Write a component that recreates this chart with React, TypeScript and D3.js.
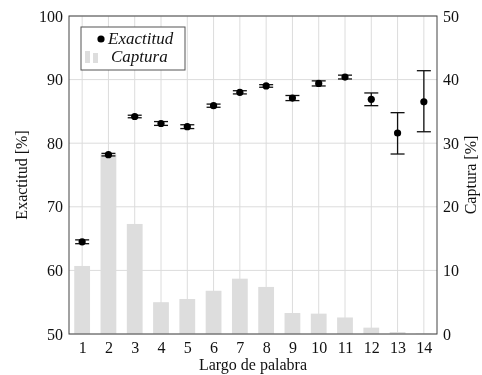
import { useEffect, useRef } from "react";
import * as d3 from "d3";

const largos = [1, 2, 3, 4, 5, 6, 7, 8, 9, 10, 11, 12, 13, 14];
const exactitud = [64.5, 78.2, 84.2, 83.1, 82.6, 85.9, 88.0, 89.0, 87.1, 89.4, 90.4, 86.9, 81.6, 86.5];
const errLow = [0.3, 0.2, 0.2, 0.3, 0.3, 0.25, 0.25, 0.2, 0.4, 0.4, 0.3, 1.0, 3.3, 4.7];
const errHigh = [0.3, 0.2, 0.2, 0.3, 0.3, 0.25, 0.25, 0.2, 0.4, 0.4, 0.3, 1.0, 3.2, 4.9];
const captura = [10.7, 28.3, 17.3, 5.0, 5.5, 6.8, 8.7, 7.4, 3.3, 3.2, 2.6, 1.0, 0.3, 0.05];
const leftTicks = [50, 60, 70, 80, 90, 100];
const rightTicks = [0, 10, 20, 30, 40, 50];

const FONT = "'Liberation Serif', 'DejaVu Serif', serif";

export default function App() {
  const svgRef = useRef<SVGSVGElement>(null);

  useEffect(() => {
    const svg = d3.select(svgRef.current);
    svg.selectAll("*").remove();

    // svg sits at page (0,0) and covers the whole window
    const left = 69, top = 16, right = 437, bottom = 334;
    const x = d3.scaleLinear().domain([0.5, 14.5]).range([left, right]);
    const yL = d3.scaleLinear().domain([50, 100]).range([bottom, top]);
    const yR = d3.scaleLinear().domain([0, 50]).range([bottom, top]);

    // grid
    svg.append("g")
      .selectAll("line")
      .data(largos)
      .join("line")
      .attr("x1", (d) => x(d)).attr("x2", (d) => x(d))
      .attr("y1", top).attr("y2", bottom)
      .attr("stroke", "#dcdcdc").attr("stroke-width", 1);
    svg.append("g")
      .selectAll("line")
      .data(leftTicks)
      .join("line")
      .attr("x1", left).attr("x2", right)
      .attr("y1", (d) => yL(d)).attr("y2", (d) => yL(d))
      .attr("stroke", "#dcdcdc").attr("stroke-width", 1);

    // bars
    const bw = (x(1) - x(0)) * 0.6;
    svg.append("g")
      .selectAll("rect")
      .data(captura)
      .join("rect")
      .attr("x", (_, i) => x(largos[i]) - bw / 2)
      .attr("width", bw)
      .attr("y", (d) => yR(d))
      .attr("height", (d) => bottom - yR(d))
      .attr("fill", "#dddddd");

    // error bars
    const eb = svg.append("g").attr("stroke", "#111").attr("stroke-width", 1.3);
    largos.forEach((l, i) => {
      const cx = x(l);
      const lo = yL(exactitud[i] - errLow[i]);
      const hi = yL(exactitud[i] + errHigh[i]);
      eb.append("line").attr("x1", cx).attr("x2", cx).attr("y1", lo).attr("y2", hi);
      eb.append("line").attr("x1", cx - 7).attr("x2", cx + 7).attr("y1", lo).attr("y2", lo);
      eb.append("line").attr("x1", cx - 7).attr("x2", cx + 7).attr("y1", hi).attr("y2", hi);
    });

    svg.append("g")
      .selectAll("circle")
      .data(exactitud)
      .join("circle")
      .attr("cx", (_, i) => x(largos[i]))
      .attr("cy", (d) => yL(d))
      .attr("r", 3.6)
      .attr("fill", "#000");

    // frame
    svg.append("rect")
      .attr("x", left).attr("y", top)
      .attr("width", right - left).attr("height", bottom - top)
      .attr("fill", "none").attr("stroke", "#444").attr("stroke-width", 1);

    // axes
    const axL = svg.append("g").attr("transform", `translate(${left},0)`)
      .call(d3.axisLeft(yL).tickValues(leftTicks).tickSize(0).tickPadding(6));
    const axR = svg.append("g").attr("transform", `translate(${right},0)`)
      .call(d3.axisRight(yR).tickValues(rightTicks).tickSize(0).tickPadding(6));
    const axB = svg.append("g").attr("transform", `translate(0,${bottom})`)
      .call(d3.axisBottom(x).tickValues(largos).tickFormat(d3.format("d")).tickSize(0).tickPadding(8));
    [axL, axR, axB].forEach((a) => {
      a.attr("font-family", null).attr("font-size", null);
      a.select(".domain").remove();
      a.selectAll("text").style("font-family", FONT).style("font-size", "16px").attr("fill", "#111");
    });

    const label = (sel: any) =>
      sel.style("font-family", FONT).style("font-size", "16px").attr("fill", "#111");

    // titles
    label(svg.append("text")
      .attr("transform", `translate(27,${(top + bottom) / 2}) rotate(-90)`)
      .attr("text-anchor", "middle")
      .text("Exactitud [%]"));
    label(svg.append("text")
      .attr("transform", `translate(476,${(top + bottom) / 2}) rotate(-90)`)
      .attr("text-anchor", "middle")
      .text("Captura [%]"));
    label(svg.append("text")
      .attr("x", (left + right) / 2).attr("y", 370)
      .attr("text-anchor", "middle")
      .text("Largo de palabra"));

    // legend
    const lg = svg.append("g");
    lg.append("rect")
      .attr("x", 81).attr("y", 27).attr("width", 104).attr("height", 43)
      .attr("fill", "#fff").attr("stroke", "#555").attr("stroke-width", 1);
    lg.append("circle").attr("cx", 101).attr("cy", 39).attr("r", 3.6).attr("fill", "#000");
    label(lg.append("text").attr("x", 108).attr("y", 44)
      .style("font-style", "italic").text("Exactitud"))
      .style("font-size", "17px");
    lg.append("rect").attr("x", 85).attr("y", 51).attr("width", 5).attr("height", 12).attr("fill", "#dddddd");
    lg.append("rect").attr("x", 93).attr("y", 53).attr("width", 5).attr("height", 10).attr("fill", "#dddddd");
    label(lg.append("text").attr("x", 111).attr("y", 62)
      .style("font-style", "italic").text("Captura"))
      .style("font-size", "17px");
  }, []);

  return (
    <svg
      ref={svgRef}
      width={482}
      height={375}
      style={{ position: "fixed", left: 0, top: 0, display: "block" }}
    />
  );
}
